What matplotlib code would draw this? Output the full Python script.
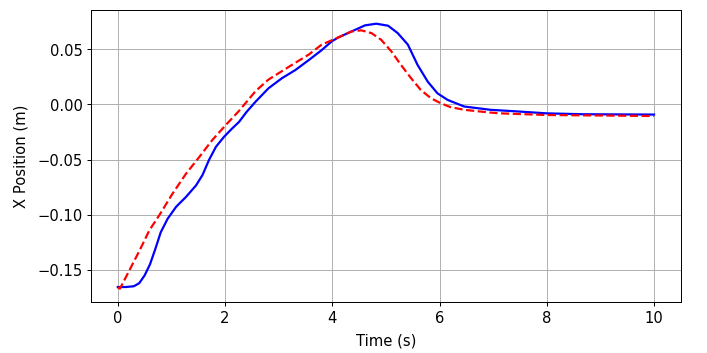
import matplotlib
matplotlib.use('Agg')
import matplotlib.pyplot as plt

# values
t_blue = [0, 0.15, 0.30, 0.40, 0.50, 0.60, 0.70, 0.80, 0.93, 1.09, 1.27, 1.46,
          1.58, 1.70, 1.83, 1.98, 2.13, 2.26, 2.40, 2.57, 2.81, 3.06, 3.31,
          3.56, 3.80, 3.99, 4.11, 4.36, 4.61, 4.82, 5.04, 5.22, 5.41, 5.59,
          5.78, 5.96, 6.15, 6.46, 6.95, 7.4, 8.0, 8.68, 10]
x_blue = [-0.1655, -0.1655, -0.1648, -0.162, -0.155, -0.145, -0.131, -0.116,
          -0.1036, -0.0927, -0.084, -0.0734, -0.064, -0.0505, -0.0385, -0.0295,
          -0.022, -0.016, -0.007, 0.0024, 0.0145, 0.0236, 0.031, 0.040, 0.049,
          0.057, 0.0605, 0.066, 0.0715, 0.073, 0.0712, 0.0645, 0.054, 0.0357,
          0.0205, 0.010, 0.004, -0.002, -0.005, -0.0063, -0.0082, -0.009,
          -0.0093]

t_red = [0, 0.04, 0.22, 0.41, 0.59, 0.78, 1.02, 1.27, 1.52, 1.76, 2.01, 2.26,
         2.57, 2.81, 3.06, 3.31, 3.56, 3.80, 4.11, 4.36, 4.54, 4.73, 4.91,
         5.10, 5.28, 5.47, 5.65, 5.84, 6.02, 6.20, 6.46, 6.95, 7.14, 8.0, 10]
x_red = [-0.166, -0.167, -0.150, -0.132, -0.114, -0.100, -0.081, -0.063,
         -0.0477, -0.0325, -0.019, -0.006, 0.012, 0.0224, 0.030, 0.0376, 0.045,
         0.054, 0.0605, 0.066, 0.067, 0.0645, 0.0585, 0.048, 0.0357, 0.0236,
         0.013, 0.0055, 0.001, -0.0025, -0.005, -0.0075, -0.0082, -0.0097,
         -0.0106]

plt.rcParams['font.size'] = 12
fig = plt.figure(figsize=(8, 4), dpi=88.375)
ax = fig.add_subplot()
fig.subplots_adjust(left=0.1287, right=0.963, top=0.969, bottom=0.1445)

ax.plot(t_blue, x_blue, color='blue', lw=1.8)
ax.plot(t_red, x_red, color='red', ls='--', lw=1.8)

ax.grid(True)
ax.set_xlabel('Time (s)', labelpad=6)
ax.set_ylabel('X Position (m)', labelpad=7)

fig.savefig('out.png', dpi=88.375)
